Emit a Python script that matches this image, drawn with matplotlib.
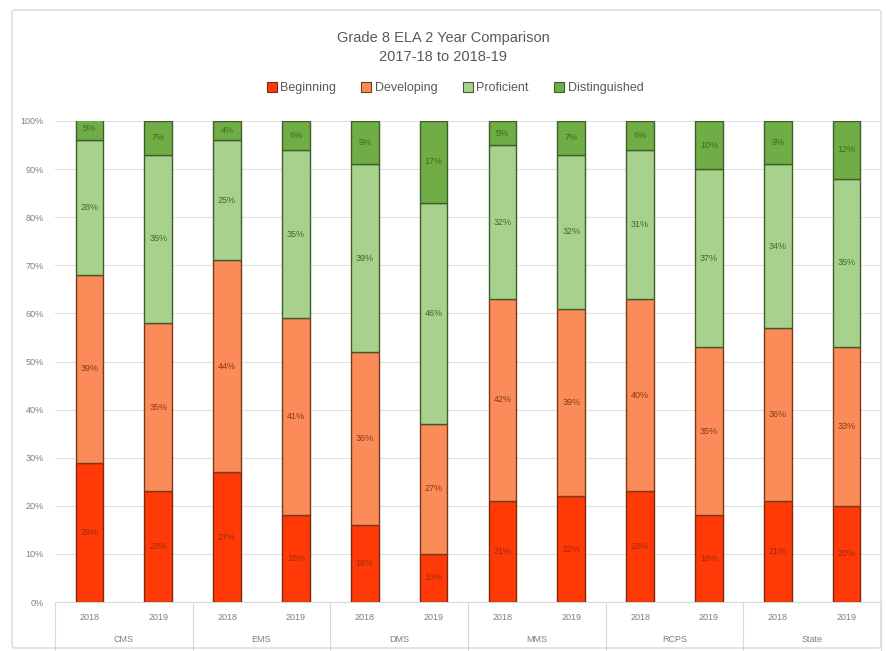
import matplotlib
matplotlib.use("Agg")
import matplotlib.pyplot as plt
import numpy as np
from matplotlib.patches import FancyBboxPatch, Patch
from matplotlib.lines import Line2D
import matplotlib.transforms as mtransforms

plt.rcParams['font.family'] = ['Liberation Sans', 'DejaVu Sans']

schools = ["CMS", "EMS", "DMS", "MMS", "RCPS", "State"]
years = ["2018", "2019"]
levels = ["Beginning", "Developing", "Proficient", "Distinguished"]

# percentages per bar, in order CMS 2018, CMS 2019, EMS 2018, ...
beginning =     [29, 23, 27, 18, 16, 10, 21, 22, 23, 18, 21, 20]
developing =    [39, 35, 44, 41, 36, 27, 42, 39, 40, 35, 36, 33]
proficient =    [28, 35, 25, 35, 39, 46, 32, 32, 31, 37, 34, 35]
distinguished = [5, 7, 4, 6, 9, 17, 5, 7, 6, 10, 9, 12]

series = [beginning, developing, proficient, distinguished]
fills = ["#FF3A06", "#FB8C5A", "#A9D18E", "#70AD47"]
edges = ["#7A2A10", "#7A3A1A", "#3E5F2A", "#3E5F2A"]
text_colors = ["#A02A10", "#8A3A12", "#3E6B22", "#3E6B22"]

fig = plt.figure(figsize=(8.86, 6.51), dpi=100)
fig.patch.set_facecolor("white")

# chart area frame
frame = FancyBboxPatch((12 / 886, 3 / 651), 869 / 886, 638 / 651,
                       boxstyle="round,pad=0,rounding_size=0.004",
                       transform=fig.transFigure, facecolor="none",
                       edgecolor="#D9D9D9", linewidth=1.0)
fig.patches.append(frame)

ax = fig.add_axes([55 / 886, (651 - 602) / 651, (881 - 55) / 886, (602 - 121) / 651])
x = np.arange(len(beginning))
bottom = np.zeros(len(x))
for vals, fc, ec, tc in zip(series, fills, edges, text_colors):
    vals = np.array(vals, dtype=float)
    ax.bar(x, vals, width=0.4, bottom=bottom, color=fc, edgecolor=ec,
           linewidth=1.0, zorder=3)
    for xi, b, v in zip(x, bottom, vals):
        ax.text(xi, b + v / 2, f"{int(v)}%", ha="center", va="center",
                fontsize=6.5, color=tc, zorder=4)
    bottom += vals

ax.set_xlim(-0.5, len(x) - 0.5)
ax.set_ylim(0, 100)
ax.set_yticks(np.arange(0, 101, 10))
ax.set_yticklabels([f"{v}%" for v in range(0, 101, 10)], fontsize=6.5, color="#7F7F7F")
ax.yaxis.grid(True, color="#E0E0E0", linewidth=0.8, zorder=0)
ax.tick_params(axis="y", length=0, pad=8)
ax.set_xticks([])
for s in ["top", "right", "left"]:
    ax.spines[s].set_visible(False)
ax.spines["bottom"].set_color("#D9D9D9")

# two-level category axis
trans = mtransforms.blended_transform_factory(ax.transData, ax.transAxes)
px = 1 / 481
for i in x:
    ax.text(i, -16 * px, years[i % 2], transform=trans, ha="center", va="center",
            fontsize=6.5, color="#7F7F7F", clip_on=False)
for g, name in enumerate(schools):
    ax.text(2 * g + 0.5, -38 * px, name, transform=trans, ha="center", va="center",
            fontsize=6.5, color="#7F7F7F", clip_on=False)
for g in range(len(schools) + 1):
    ax.add_line(Line2D([2 * g - 0.5, 2 * g - 0.5], [0, -48 * px], transform=trans,
                       color="#D9D9D9", linewidth=0.8, clip_on=False))

fig.text(0.5, 1 - 38 / 651, "Grade 8 ELA 2 Year Comparison", ha="center", va="center",
         fontsize=10.5, color="#595959")
fig.text(0.5, 1 - 57 / 651, "2017-18 to 2018-19", ha="center", va="center",
         fontsize=10.5, color="#595959")

handles = [Patch(facecolor=fc, edgecolor=ec, linewidth=0.8) for fc, ec in zip(fills, edges)]
fig.legend(handles, levels, loc="center", bbox_to_anchor=(455 / 886, 1 - 88 / 651), ncol=4,
           frameon=False, fontsize=9, handlelength=0.8, handleheight=0.8,
           handletextpad=0.3, columnspacing=2.0, labelcolor="#595959")

fig.savefig("out.png", dpi=100)
